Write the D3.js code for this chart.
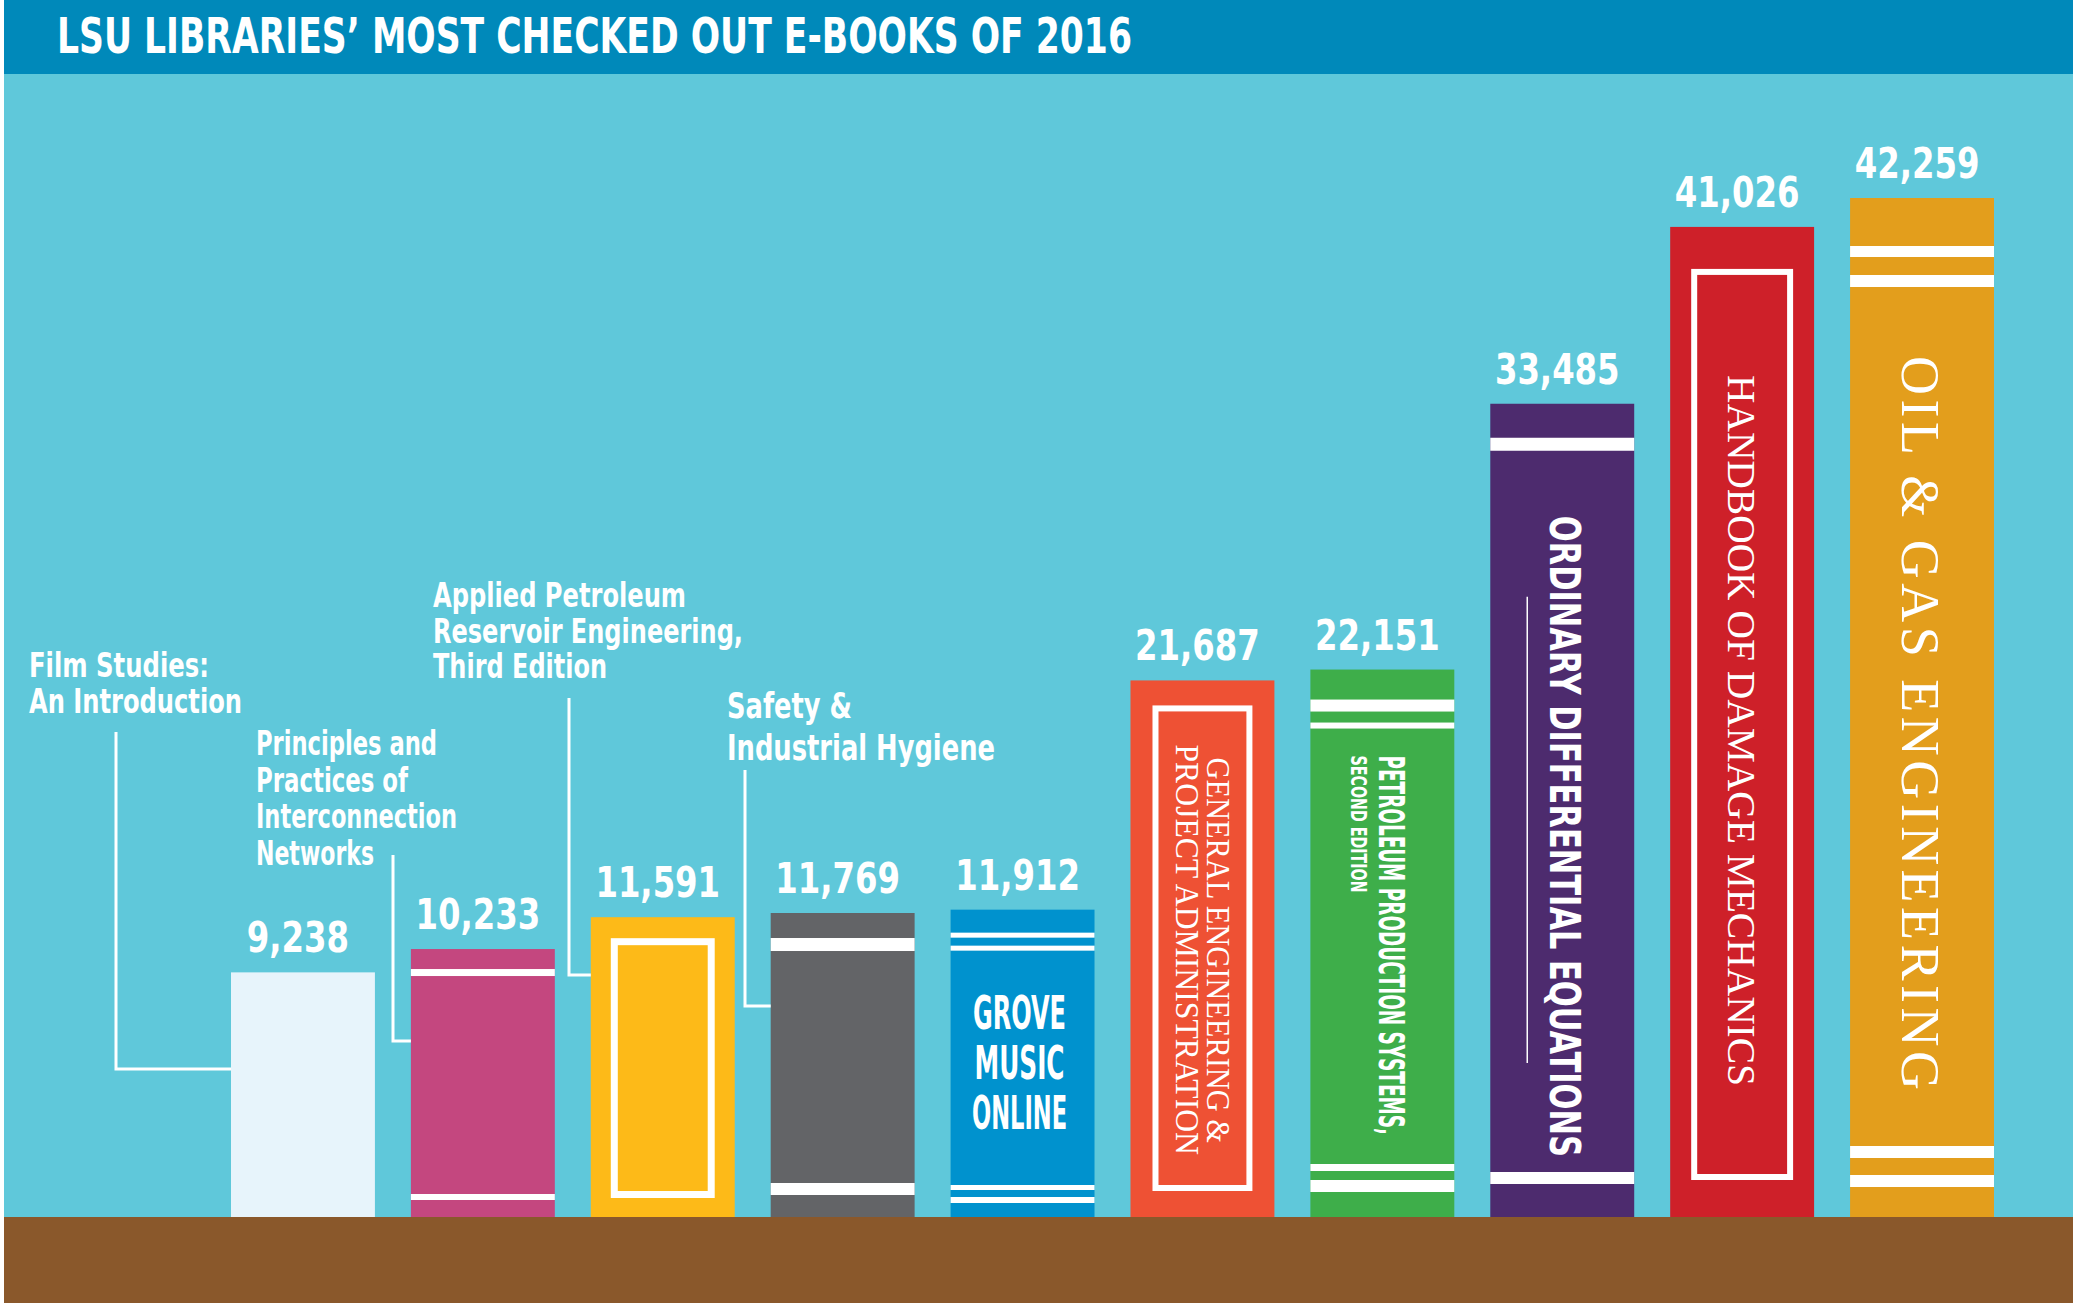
<!DOCTYPE html>
<html><head><meta charset="utf-8">
<script src="https://cdn.jsdelivr.net/npm/d3@7"></script>
<style>
html,body{margin:0;padding:0;background:#fff;overflow:hidden}
svg{display:block}
</style></head><body>
<svg id="chart" width="2073" height="1303"></svg>
<script>
// ---------------- DATA ----------------
const title = "LSU LIBRARIES’ MOST CHECKED OUT E-BOOKS OF 2016";
const books = [
  "Film Studies: An Introduction",
  "Principles and Practices of Interconnection Networks",
  "Applied Petroleum Reservoir Engineering, Third Edition",
  "Safety & Industrial Hygiene",
  "Grove Music Online",
  "General Engineering & Project Administration",
  "Petroleum Production Systems, Second Edition",
  "Ordinary Differential Equations",
  "Handbook of Damage Mechanics",
  "Oil & Gas Engineering"
];
const checkouts = [9238, 10233, 11591, 11769, 11912, 21687, 22151, 33485, 41026, 42259];
const calloutLines = [
  ["Film Studies:", "An Introduction"],
  ["Principles and", "Practices of", "Interconnection", "Networks"],
  ["Applied Petroleum", "Reservoir Engineering,", "Third Edition"],
  ["Safety &", "Industrial Hygiene"]
];
const spineLines = [
  [], [], [], [],
  ["GROVE", "MUSIC", "ONLINE"],
  ["GENERAL ENGINEERING &", "PROJECT ADMINISTRATION"],
  ["PETROLEUM PRODUCTION SYSTEMS,", "SECOND EDITION"],
  ["ORDINARY DIFFERENTIAL EQUATIONS"],
  ["HANDBOOK OF DAMAGE MECHANICS"],
  ["OIL & GAS ENGINEERING"]
];
const bookColors = ["#E7F4FB", "#C4477F", "#FDBA18", "#636467", "#0092CE",
                    "#EE5134", "#3EAE4A", "#4D2B6E", "#CE2029", "#E39E1C"];

// ---------------- STYLE / LAYOUT ----------------
const W = 2073, H = 1303;
const SANS = "'Liberation Sans Narrow','Arial Narrow','DejaVu Sans Condensed',sans-serif";
const SERIF = "'Liberation Serif','Times New Roman','DejaVu Serif',serif";
const bgColor = "#5FC8DA", barColor = "#0089BA", shelfColor = "#8A582B";
const titleH = 74, shelfY = 1217;

const svg = d3.select("#chart");
svg.append("rect").attr("width", W).attr("height", H).attr("fill", "#fff");
svg.append("rect").attr("x", 4).attr("y", 0).attr("width", W - 4).attr("height", H).attr("fill", bgColor);
svg.append("rect").attr("x", 4).attr("y", 0).attr("width", W - 4).attr("height", titleH).attr("fill", barColor);
svg.append("text").text(title)
  .attr("x", 57).attr("y", 53)
  .attr("font-family", SANS).attr("font-weight", "bold").attr("font-size", 50)
  .attr("fill", "#fff").attr("textLength", 1075).attr("lengthAdjust", "spacingAndGlyphs");

// scales
const x = d3.scaleBand().domain(books).range([231, 1994]).paddingInner(0.2).paddingOuter(0);
const y = d3.scaleLinear().domain([0, d3.max(checkouts)]).range([1189, 198]);
const bw = x.bandwidth();

const data = books.map((b, i) => ({book: b, value: checkouts[i], i, color: bookColors[i], spine: spineLines[i]}));

// books (bars)
const g = svg.append("g");
const bk = g.selectAll("g.book").data(data).join("g").attr("class", "book");
bk.append("rect")
  .attr("x", d => x(d.book)).attr("y", d => y(d.value))
  .attr("width", bw).attr("height", d => shelfY - y(d.value))
  .attr("fill", d => d.color);

// decorations
const stripes = {
  1: [["top", 20, 27], ["shelf", -23, -17]],
  3: [["top", 25, 38], ["shelf", -34, -22]],
  4: [["top", 23, 28], ["top", 36, 41], ["shelf", -32, -27], ["shelf", -20, -14]],
  6: [["top", 30, 42], ["top", 53, 59], ["shelf", -53, -46], ["shelf", -37, -25]],
  7: [["top", 34, 47], ["shelf", -45, -33]],
  9: [["top", 48, 59], ["top", 77, 89], ["shelf", -71, -59], ["shelf", -42, -30]]
};
const frames = {
  2: {inset: 20, t: 21, b: 19, w: 7},
  5: {inset: 22, t: 25, b: 26, w: 6},
  8: {inset: 21, t: 42, b: 37, w: 6}
};
bk.each(function(d) {
  const sel = d3.select(this);
  const x0 = x(d.book), top = y(d.value);
  (stripes[d.i] || []).forEach(s => {
    const ref = s[0] === "top" ? top : shelfY;
    sel.append("rect").attr("x", x0).attr("width", bw)
      .attr("y", ref + s[1]).attr("height", s[2] - s[1]).attr("fill", "#fff");
  });
  const f = frames[d.i];
  if (f) {
    sel.append("rect")
      .attr("x", x0 + f.inset + f.w / 2).attr("y", top + f.t + f.w / 2)
      .attr("width", bw - 2 * f.inset - f.w)
      .attr("height", (shelfY - f.b) - (top + f.t) - f.w)
      .attr("fill", "none").attr("stroke", "#fff").attr("stroke-width", f.w);
  }
});

// spine text
const spineStyle = {
  5: [{dx: 15, font: SERIF, size: 33, t: 77, b: -74, weight: "normal"},
      {dx: -16, font: SERIF, size: 33, t: 64, b: -62, weight: "normal"}],
  6: [{dx: 10, font: SANS, size: 36, t: 86, b: -82, weight: "bold"},
      {dx: -24, font: SANS, size: 21, t: 86, len: 137, weight: "bold"}],
  7: [{dx: 3, font: SANS, size: 43, t: 112, b: -60, weight: "bold"}],
  8: [{dx: -1, font: SERIF, size: 39, t: 148, b: -131, weight: "normal"}],
  9: [{dx: -2, font: SERIF, size: 54, t: 158, b: -127, weight: "normal", adjust: "spacing"}]
};
bk.each(function(d) {
  const sel = d3.select(this);
  const cx = x(d.book) + bw / 2, top = y(d.value);
  if (d.i === 4) {
    const lens = [93, 90, 95];
    d.spine.forEach((t, j) => {
      sel.append("text").text(t)
        .attr("x", cx - 3).attr("y", top + 119 + 50 * j)
        .attr("text-anchor", "middle")
        .attr("font-family", SANS).attr("font-weight", "bold").attr("font-size", 46)
        .attr("fill", "#fff").attr("textLength", lens[j]).attr("lengthAdjust", "spacingAndGlyphs");
    });
  }
  const st = spineStyle[d.i];
  if (st) {
    d.spine.forEach((t, j) => {
      const s = st[j];
      const y0 = top + s.t;
      const len = s.len || (shelfY + s.b - y0);
      sel.append("text").text(t)
        .attr("transform", `translate(${cx + s.dx},${y0}) rotate(90)`)
        .attr("x", 0).attr("y", 0).attr("dy", s.font === SERIF ? "0.33em" : "0.36em")
        .attr("font-family", s.font).attr("font-weight", s.weight).attr("font-size", s.size)
        .attr("fill", "#fff").attr("textLength", len)
        .attr("lengthAdjust", s.adjust || "spacingAndGlyphs");
    });
  }
  if (d.i === 7) {
    sel.append("line")
      .attr("x1", cx - 35).attr("x2", cx - 35)
      .attr("y1", top + 193).attr("y2", shelfY - 154)
      .attr("stroke", "#fff").attr("stroke-width", 1.5);
  }
});

// shelf
svg.append("rect").attr("x", 4).attr("y", shelfY).attr("width", W - 4).attr("height", H - shelfY).attr("fill", shelfColor);

// value labels
const fmt = d3.format(",");
g.selectAll("text.val").data(data).join("text").attr("class", "val")
  .text(d => fmt(d.value))
  .attr("x", d => x(d.book) + bw / 2 - 5).attr("y", d => y(d.value) - 20)
  .attr("text-anchor", "middle")
  .attr("font-family", SANS).attr("font-weight", "bold").attr("font-size", 42)
  .attr("fill", "#fff")
  .each(function() {
    const w = this.getComputedTextLength();
    this.setAttribute("textLength", w * 0.855);
    this.setAttribute("lengthAdjust", "spacingAndGlyphs");
  });

// callouts (annotations for the first four books)
const callouts = [
  {tx: 29, ty: 677, lh: 36, size: 34, widths: [180, 213], lx: 116, ly: 732, ey: 1069},
  {tx: 256, ty: 755, lh: 36.5, size: 34, widths: [181, 152, 201, 118], lx: 393, ly: 855, ey: 1041},
  {tx: 433, ty: 607, lh: 35.5, size: 34, widths: [253, 310, 174], lx: 569, ly: 698, ey: 975},
  {tx: 727, ty: 718, lh: 42, size: 35, widths: [125, 268], lx: 745, ly: 770, ey: 1006}
];
callouts.forEach((c, i) => {
  const cg = svg.append("g");
  calloutLines[i].forEach((t, j) => {
    cg.append("text").text(t)
      .attr("x", c.tx).attr("y", c.ty + c.lh * j)
      .attr("font-family", SANS).attr("font-weight", "bold").attr("font-size", c.size)
      .attr("fill", "#fff")
      .attr("textLength", c.widths[j]).attr("lengthAdjust", "spacingAndGlyphs");
  });
  cg.append("path")
    .attr("d", `M${c.lx},${c.ly}V${c.ey}H${x(books[i])}`)
    .attr("fill", "none").attr("stroke", "#fff").attr("stroke-width", 3);
});
</script>
</body></html>
